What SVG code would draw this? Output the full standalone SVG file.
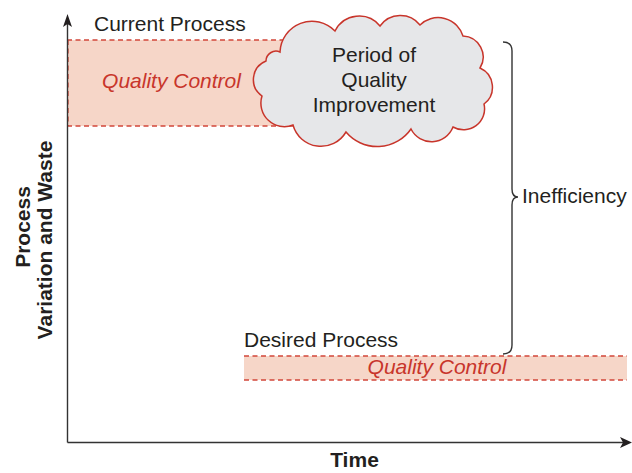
<svg xmlns="http://www.w3.org/2000/svg" width="632" height="473" viewBox="0 0 632 473">
<style>
.t{font-family:"Liberation Sans",Arial,sans-serif;font-size:21px;fill:#231f20}
.b{font-weight:bold}
.qc{font-family:"Liberation Sans",Arial,sans-serif;font-size:21px;font-style:italic;fill:#c8352b}
.band{fill:#f6d6c8}
.dash{stroke:#d2473a;stroke-width:1.3;stroke-dasharray:5,3.5;fill:none}
.ax{stroke:#333;stroke-width:1.4;fill:none}
</style>
<rect width="632" height="473" fill="#fff"/>
<g id="current-band">
<rect class="band" x="67" y="40" width="240" height="86"/>
<line class="dash" x1="67" y1="40" x2="307" y2="40"/>
<line class="dash" x1="67" y1="126" x2="307" y2="126"/>
<line class="dash" x1="68" y1="40" x2="68" y2="126"/>
<text class="qc" x="171.5" y="88" text-anchor="middle">Quality Control</text>
</g>
<g id="desired-band">
<rect class="band" x="244" y="356" width="383" height="24"/>
<line class="dash" x1="244" y1="356" x2="627" y2="356"/>
<line class="dash" x1="244" y1="380" x2="627" y2="380"/>
<text class="qc" x="437" y="374" text-anchor="middle">Quality Control</text>
</g>
<g id="cloud">
<path d="M280,52 A32,32 0 0 1 335,31 A27,27 0 0 1 380,26 A25,25 0 0 1 420,25 A26,26 0 0 1 463,36 A21,21 0 0 1 480,68 A21,21 0 0 1 484,104 A21,21 0 0 1 453,127 A23,23 0 0 1 411,129 A41,41 0 0 1 346,132 A29,29 0 0 1 293,125 A23.5,23.5 0 0 1 262,96 A20,20 0 0 1 266,61 A10,10 0 0 1 280,52 Z" fill="#e6e7e9" stroke="#c8352b" stroke-width="1.5"/>
<text class="t" x="374" y="62" text-anchor="middle">Period of</text>
<text class="t" x="374" y="87" text-anchor="middle">Quality</text>
<text class="t" x="374" y="112" text-anchor="middle">Improvement</text>
</g>
<g id="labels">
<text class="t" x="94" y="31">Current Process</text>
<text class="t" x="244" y="347">Desired Process</text>
<text class="t" x="522" y="203">Inefficiency</text>
<text class="t b" x="354.5" y="467" text-anchor="middle">Time</text>
<text class="t b" transform="translate(30,227) rotate(-90)" text-anchor="middle">Process</text>
<text class="t b" transform="translate(52,240) rotate(-90)" text-anchor="middle">Variation and Waste</text>
</g>
<g id="connectors">
<line class="ax" x1="67.5" y1="24" x2="67.5" y2="442.5"/>
<line class="ax" x1="67.5" y1="442.5" x2="624" y2="442.5"/>
<path d="M67.5,14 L72,27 L67.5,24 L63,27 Z" fill="#231f20"/>
<path d="M632,442.5 L620,448 L623,442.5 L620,437 Z" fill="#231f20"/>
<path class="ax" stroke-width="1.3" d="M503,42 Q512,42 512,51 L512,189 Q512,197 518,197 Q512,197 512,205 L512,345 Q512,354 503,354"/>
</g>
</svg>
